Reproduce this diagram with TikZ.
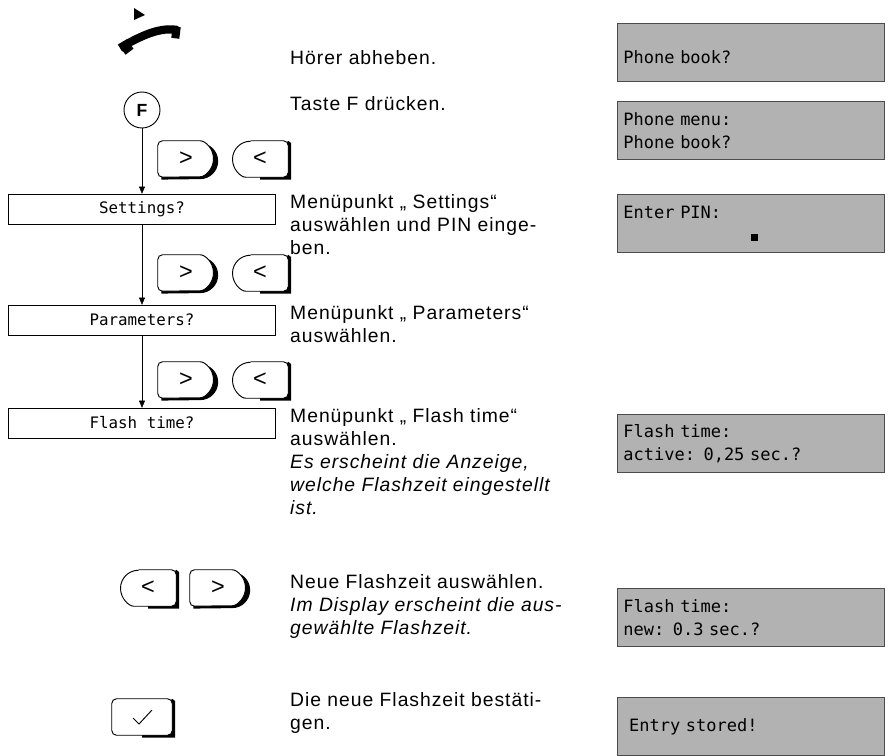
\documentclass[tikz,border=0pt]{standalone}
\usepackage{fontspec}
\setmainfont{Liberation Sans}[LetterSpace=5]
\newfontfamily\lcdfont{DejaVu Sans Mono}
\usetikzlibrary{positioning,calc,arrows.meta}
\tikzset{
  txt/.style={anchor=north west, inner sep=0pt, align=left, font=\fontsize{16.5}{19.6}\selectfont},
  menu/.style={draw, minimum width=267*0.03cm, minimum height=30*0.03cm, inner sep=0pt, font=\lcdfont\fontsize{13.5}{14}\selectfont},
  lcd/.style={draw=black!70, thick, fill=black!30, minimum width=267*0.03cm, minimum height=58*0.03cm, inner sep=3pt, anchor=north west, text width=255*0.03cm, align=left, font=\lcdfont\fontsize{14.5}{19.6}\selectfont},
  key/.style={minimum width=56*0.03cm, minimum height=36*0.03cm, inner sep=0pt, font=\fontsize{20}{20}\selectfont},
  flow/.style={draw, -{Triangle[length=6pt,width=5pt]}}
}
\newcommand{\keyright}[1]{% D shaped key
  \fill ($(#1.north west)+(3pt,-2pt)$) -- ($(#1.north east)+(-12pt,-2pt)$) arc[start angle=90,end angle=-90,radius={0.5*36*0.03cm+0pt}] -- ($(#1.south west)+(3pt,-2pt)$) -- cycle;
  \draw[thick, fill=white, rounded corners=4pt] (#1.north west) -- ($(#1.north east)+(-16pt,0)$) arc[start angle=90,end angle=-90,radius={0.5*36*0.03cm}] -- (#1.south west) -- cycle;}
\newcommand{\keyleft}[1]{% key rounded on the left
  \fill ($(#1.north east)+(2.5pt,-2pt)$) -- ($(#1.south east)+(2.5pt,-2pt)$) -- ($(#1.south)+(0,-2pt)$) -- (#1.south) -- (#1.north east) -- cycle;
  \draw[thick, fill=white, rounded corners=4pt] ($(#1.north west)+(16pt,0)$) -- (#1.north east) -- (#1.south east) -- ($(#1.south west)+(16pt,0)$) [sharp corners] arc[start angle=270,end angle=90,radius={0.5*36*0.03cm}];}
\begin{document}
\begin{tikzpicture}[x=0.03cm, y=-0.03cm]
\useasboundingbox (0,0) rectangle (889,756);
% handset
\draw[line width=7pt] (120,48) .. controls (150,30) and (165,28) .. (178,30);
\draw[line width=10pt] (122,50) -- (130,44);
\draw[line width=10pt] (172,32) -- (180,33);
\fill (134,8) -- (145,15) -- (134,20) -- cycle;
% F key
\node[draw, thick, circle, minimum size=36*0.03cm, inner sep=0pt, font=\bfseries\fontsize{15}{15}\selectfont] (F) at (142,110) {F};
\node[menu] (settings) at (142,209) {Settings?};
\node[menu] (params) at (142,320) {Parameters?};
\node[menu] (flash) at (142,423) {Flash time?};
\draw[flow] (F) -- (settings);
\draw[flow] (settings) -- (params);
\draw[flow] (params) -- (flash);
% arrow keys
\foreach \y/\n in {159/a, 273/b, 380/c} {
  \node[key] (fwd\n) at (186,\y) {};
  \node[key] (back\n) at (260,\y) {};
  \keyright{fwd\n} \keyleft{back\n}
  \node[font=\fontsize{20}{20}\selectfont] at (fwd\n) {>};
  \node[font=\fontsize{20}{20}\selectfont] at (back\n) {<};
}
\node[key] (backd) at (148,588) {};
\node[key] (fwdd) at (218,588) {};
\keyleft{backd} \keyright{fwdd}
\node[font=\fontsize{20}{20}\selectfont] at (backd) {<};
\node[font=\fontsize{20}{20}\selectfont] at (fwdd) {>};
% ok key
\node[key, minimum width=60*0.03cm] (ok) at (142,717) {};
\fill ($(ok.north east)+(2.5pt,-2pt)$) -- ($(ok.south east)+(2.5pt,-2pt)$) -- ($(ok.south)+(0,-2pt)$) -- (ok.south) -- (ok.north east) -- cycle;
\draw[thick, fill=white, rounded corners=4pt] (ok.north west) rectangle (ok.south east);
\draw[thick] ($(ok)+(-9,1)$) -- ($(ok)+(-3,7)$) -- ($(ok)+(10,-7)$);
% texts
\node[txt] (t1) at (290,50) {Hörer abheben.};
\node[txt] (t2) at (290,96) {Taste F drücken.};
\node[txt] (t3) at (290,194) {Menüpunkt „ Settings“\\auswählen und PIN einge-\\ben.};
\node[txt] (t4) at (290,305) {Menüpunkt „ Parameters“\\auswählen.};
\node[txt] (t5) at (290,408) {Menüpunkt „ Flash time“\\auswählen.\\\textit{Es erscheint die Anzeige,}\\\textit{welche Flashzeit eingestellt}\\\textit{ist.}};
\node[txt] (t6) at (290,574) {Neue Flashzeit auswählen.\\\textit{Im Display erscheint die aus-}\\\textit{gewählte Flashzeit.}};
\node[txt] (t7) at (290,692) {Die neue Flashzeit bestäti-\\gen.};
% displays
\node[lcd] (d1) at (617,23) {\\Phone book?};
\node[lcd] (d2) at (617,101) {Phone menu:\\Phone book?};
\node[lcd] (d3) at (617,194) {Enter PIN:\\\hspace*{7.5em}\rule{6pt}{6pt}};
\node[lcd] (d4) at (617,414) {Flash time:\\active: 0,25 sec.?};
\node[lcd] (d5) at (617,588) {Flash time:\\new: 0.3 sec.?};
\node[lcd] (d6) at (617,697) {\ Entry stored!\\};
\end{tikzpicture}
\end{document}
